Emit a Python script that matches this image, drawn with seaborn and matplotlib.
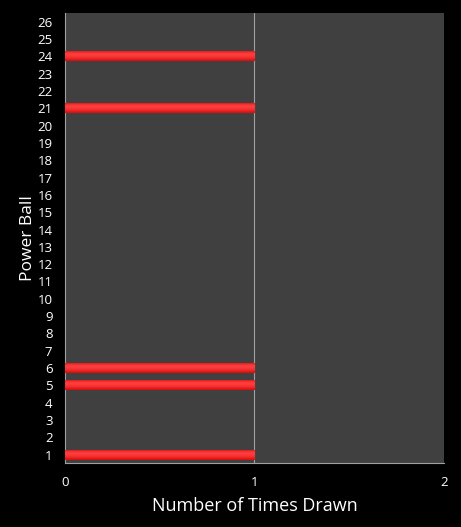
import numpy as np
import pandas as pd
import matplotlib
matplotlib.use("Agg")
import matplotlib.pyplot as plt
import seaborn as sns

# 数据
balls = list(range(1, 27))
drawn = [1, 0, 0, 0, 1, 1, 0, 0, 0, 0, 0, 0, 0, 0, 0, 0, 0, 0, 0, 0, 1, 0, 0, 1, 0, 0]
x_ticks = [0, 1, 2]

df = pd.DataFrame({"ball": [str(b) for b in balls], "count": drawn})
order = [str(b) for b in balls[::-1]]

sns.set_style("dark")
plt.rcParams['font.family'] = ['Open Sans', 'DejaVu Sans']

fig = plt.figure(figsize=(4.61, 5.27), dpi=100, facecolor="black")
ax = fig.add_axes([0.141, 0.121, 0.822, 0.854])
ax.set_facecolor("#404040")

sns.barplot(data=df, x="count", y="ball", order=order, color="#e01010",
            width=0.58, orient="h", ax=ax, edgecolor="none")

# 渐变效果（圆柱感）
grad = np.array([0.6, 0.85, 1.0, 0.95, 0.88, 0.75, 0.55]).reshape(-1, 1)
cmap = matplotlib.colors.LinearSegmentedColormap.from_list(
    "redbar", ["#7a0000", "#d80808", "#ff4040"])
for p in list(ax.patches):
    if p.get_width() <= 0:
        continue
    x0, y0 = p.get_x(), p.get_y()
    w, h = p.get_width(), p.get_height()
    im = ax.imshow(grad, cmap=cmap, vmin=0, vmax=1, aspect="auto",
                   extent=[x0, x0 + w, y0 + h, y0], zorder=3, interpolation="bicubic")
    im.set_clip_path(p)

ax.set_xlim(0, 2)
ax.set_ylim(len(order) - 0.5, -0.5)
ax.set_xticks(x_ticks)
ax.set_xticklabels([str(t) for t in x_ticks])
ax.grid(False)
ax.axvline(1, color="#a0a0a0", lw=0.8, zorder=1)

for s in ["top", "right"]:
    ax.spines[s].set_visible(False)
for s in ["left", "bottom"]:
    ax.spines[s].set_visible(True)
    ax.spines[s].set_color("#a0a0a0")
    ax.spines[s].set_linewidth(0.8)

ax.tick_params(axis="both", colors="white", labelsize=9.5, length=0)
ax.tick_params(axis="y", pad=9)
ax.tick_params(axis="x", pad=9)
ax.set_xlabel("Number of Times Drawn", color="white", fontsize=13, labelpad=6)
ax.set_ylabel("Power Ball", color="white", fontsize=12.5, labelpad=1)

fig.savefig("out.png", dpi=100, facecolor="black")
